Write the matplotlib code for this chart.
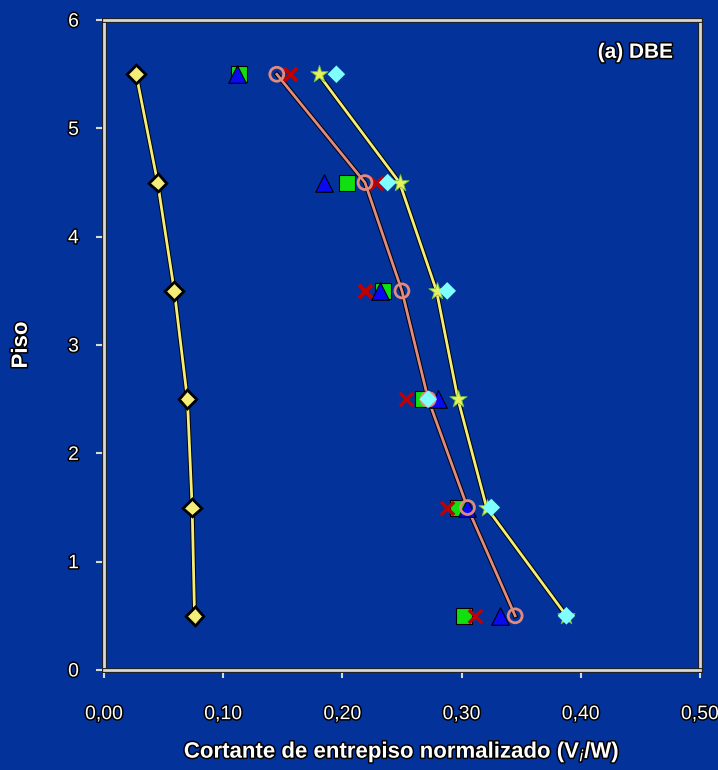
import matplotlib
matplotlib.use("Agg")
import matplotlib.pyplot as plt
import matplotlib.patheffects as pe
from matplotlib.ticker import FuncFormatter

plt.rcParams['font.family'] = ['Liberation Sans', 'DejaVu Sans']

FLOORS = [5.5, 4.5, 3.5, 2.5, 1.5, 0.5]

# series values
yellow_left = [0.027, 0.045, 0.059, 0.070, 0.074, 0.076]
green_sq = [0.113, 0.204, 0.234, 0.268, 0.297, 0.302]
blue_tri = [0.112, 0.185, 0.232, 0.280, 0.305, 0.332]
red_x = [0.156, 0.228, 0.219, 0.253, 0.288, 0.311]
pink_circ = [0.145, 0.219, 0.250, 0.272, 0.305, 0.345]
yellow_star = [0.180, 0.248, 0.279, 0.297, 0.321, 0.388]
cyan_dia = [0.195, 0.238, 0.288, 0.272, 0.325, 0.388]

BG = "#03339a"
YEL = "#f4ee78"
PINK = "#e08a80"

outline = [pe.Stroke(linewidth=3.4, foreground="black"), pe.Normal()]
txt_fx = [pe.withStroke(linewidth=2.2, foreground="black")]

fig = plt.figure(figsize=(7.18, 7.70), dpi=100, facecolor=BG)
ax = fig.add_axes([0.1448, 0.1299, 0.830, 0.844], facecolor=BG)

ax.plot(yellow_left, FLOORS, color=YEL, lw=2, marker="D", ms=8,
        mec="black", mew=0.6, path_effects=outline, zorder=5)
ax.plot(yellow_star, FLOORS, color=YEL, lw=2, path_effects=outline, zorder=4)
ax.plot(pink_circ, FLOORS, color=PINK, lw=2, path_effects=outline, zorder=4)

ax.scatter(green_sq, FLOORS, marker="s", s=130, c="#10e010", edgecolors="black",
           linewidths=0.8, zorder=6)
ax.scatter(blue_tri, FLOORS, marker="^", s=160, c="#0a0af0", edgecolors="black",
           linewidths=0.8, zorder=7)
ax.scatter(red_x, FLOORS, marker="x", s=90, c="#c00000", linewidths=2.6, zorder=7)
ax.scatter(pink_circ, FLOORS, marker="o", s=100, facecolors="none",
           edgecolors=PINK, linewidths=2, zorder=8)
ax.scatter(yellow_star, FLOORS, marker="*", s=170, c="#e8f060",
           edgecolors="#70c040", linewidths=0.6, zorder=8)
ax.scatter(cyan_dia, FLOORS, marker="D", s=80, c="#80ffff", edgecolors="none",
           zorder=9)

ax.set_xlim(0, 0.5)
ax.set_ylim(0, 6)
ax.set_xticks([0, 0.1, 0.2, 0.3, 0.4, 0.5])
ax.set_yticks(range(7))
ax.xaxis.set_major_formatter(FuncFormatter(lambda v, p: f"{v:.2f}".replace(".", ",")))

for s in ax.spines.values():
    s.set_color("#d8d8d8")
    s.set_linewidth(2)
    s.set_path_effects([pe.Stroke(linewidth=3.5, foreground="#202020"), pe.Normal()])

ax.tick_params(colors="#d8d8d8", width=1.5, length=6, labelsize=14)
ax.tick_params(axis="x", pad=20)
ax.tick_params(axis="y", pad=12)
for lab in ax.get_xticklabels() + ax.get_yticklabels():
    lab.set_color("white")
    lab.set_path_effects(txt_fx)

ax.set_xlabel("Cortante de entrepiso normalizado (V$_i$/W)", fontsize=16,
              fontweight="bold", color="white", labelpad=12, path_effects=txt_fx)
ax.set_ylabel("Piso", fontsize=16, fontweight="bold", color="white",
              labelpad=26, path_effects=txt_fx)
ax.text(0.955, 0.965, "(a) DBE", transform=ax.transAxes, ha="right", va="top",
        fontsize=15, fontweight="bold", color="white", path_effects=txt_fx)

fig.savefig("out.png", dpi=100, facecolor=BG)
